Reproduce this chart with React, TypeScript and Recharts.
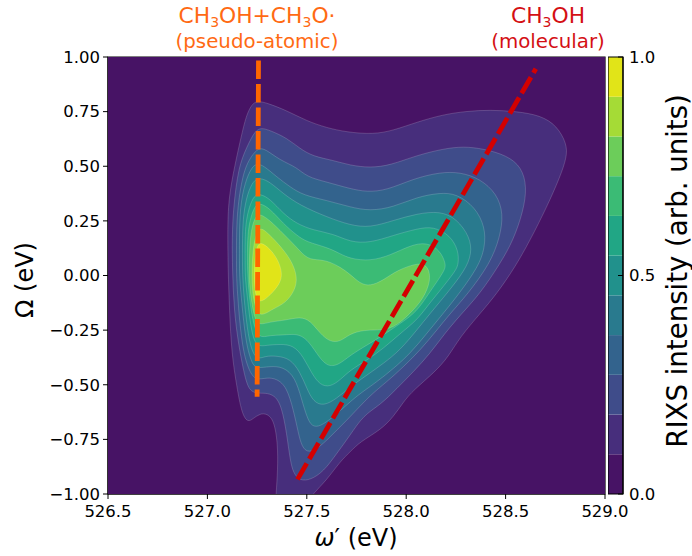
import React from 'react';
import { ScatterChart, Scatter, XAxis, YAxis, ReferenceArea, BarChart, Bar } from 'recharts';

const FONT = '"DejaVu Sans", sans-serif';

const xTicks = [526.5, 527, 527.5, 528, 528.5, 529];
const yTicks = [-1, -0.75, -0.5, -0.25, 0, 0.25, 0.5, 0.75, 1];
const barTicks = [0, 0.5, 1];
const bandColors = ['#471365', '#472e7c', '#3f4c8a', '#33638d', '#297a8e', '#21918c', '#21a685', '#3bbb75', '#6ccd5a', '#a5db36', '#e1e418'];

type P = [number, number];
const backdrop: P[] = [[526.5, -1], [529, -1], [529, 1], [526.5, 1]];
const contour1: P[] = [[527.101,.252],[527.111,.374],[527.136,.496],[527.173,.649],[527.198,.74],[527.228,.79],[527.257,.798],[527.299,.79],[527.399,.755],[527.5,.707],[527.6,.676],[527.701,.656],[527.835,.646],[527.936,.664],[528.053,.702],[528.187,.737],[528.305,.752],[528.422,.758],[528.556,.751],[528.674,.733],[528.757,.687],[528.808,.603],[528.808,.542],[528.774,.451],[528.707,.313],[528.623,.161],[528.548,.039],[528.456,-.083],[528.372,-.174],[528.271,-.281],[528.212,-.372],[528.145,-.441],[528.036,-.525],[527.986,-.578],[527.936,-.647],[527.869,-.708],[527.768,-.761],[527.718,-.807],[527.667,-.852],[527.6,-.936],[527.533,-.997],[527.491,-1.05],[527.449,-1.104],[527.34,-1.104],[527.344,-1.05],[527.345,-1.002],[527.354,-.89],[527.354,-.769],[527.335,-.662],[527.299,-.632],[527.265,-.632],[527.231,-.654],[527.203,-.673],[527.173,-.632],[527.148,-.51],[527.122,-.357],[527.111,-.159],[527.104,.024]];
const contour2: P[] = [[527.124,.176],[527.131,.313],[527.156,.496],[527.198,.588],[527.24,.664],[527.273,.676],[527.315,.664],[527.399,.63],[527.466,.58],[527.533,.545],[527.634,.527],[527.718,.504],[527.818,.493],[527.919,.504],[528.053,.55],[528.187,.58],[528.288,.591],[528.389,.58],[528.506,.55],[528.581,.496],[528.607,.405],[528.59,.298],[528.539,.161],[528.472,.054],[528.372,-.083],[528.271,-.182],[528.187,-.273],[528.12,-.357],[528.036,-.441],[527.953,-.517],[527.869,-.593],[527.785,-.639],[527.718,-.731],[527.651,-.814],[527.584,-.898],[527.517,-.936],[527.466,-.939],[527.433,-.906],[527.416,-.845],[527.399,-.723],[527.374,-.601],[527.34,-.548],[527.29,-.537],[527.248,-.54],[527.206,-.525],[527.181,-.433],[527.156,-.312],[527.134,-.159],[527.126,.024]];
const contour3: P[] = [[527.146,.176],[527.151,.313],[527.181,.481],[527.223,.55],[527.257,.583],[527.29,.58],[527.366,.527],[527.449,.496],[527.5,.451],[527.6,.428],[527.718,.397],[527.802,.382],[527.902,.39],[528.036,.443],[528.171,.473],[528.271,.473],[528.372,.443],[528.456,.374],[528.489,.283],[528.472,.176],[528.422,.054],[528.305,-.09],[528.221,-.174],[528.154,-.25],[528.07,-.342],[527.986,-.418],[527.902,-.487],[527.818,-.548],[527.718,-.647],[527.634,-.723],[527.567,-.784],[527.508,-.814],[527.475,-.784],[527.458,-.723],[527.433,-.616],[527.399,-.51],[527.349,-.472],[527.299,-.467],[527.248,-.479],[527.215,-.449],[527.181,-.357],[527.161,-.205],[527.149,-.052],[527.146,.024]];
const contour4: P[] = [[527.161,.176],[527.164,.313],[527.189,.428],[527.223,.496],[527.248,.512],[527.282,.504],[527.349,.451],[527.416,.405],[527.483,.367],[527.6,.344],[527.718,.313],[527.818,.295],[527.936,.313],[528.053,.359],[528.171,.379],[528.254,.374],[528.347,.313],[528.397,.222],[528.397,.13],[528.363,.039],[528.254,-.098],[528.171,-.19],[528.103,-.266],[528.02,-.357],[527.936,-.426],[527.852,-.487],[527.768,-.54],[527.718,-.578],[527.634,-.647],[527.567,-.692],[527.525,-.692],[527.5,-.647],[527.475,-.57],[527.441,-.464],[527.382,-.418],[527.315,-.415],[527.248,-.426],[527.223,-.403],[527.195,-.312],[527.178,-.174],[527.164,-.037],[527.161,.024]];
const contour5: P[] = [[527.176,.176],[527.181,.283],[527.201,.374],[527.231,.435],[527.265,.448],[527.315,.428],[527.382,.374],[527.466,.321],[527.6,.268],[527.718,.23],[527.818,.219],[527.936,.252],[528.053,.283],[528.171,.295],[528.254,.26],[528.321,.176],[528.33,.1],[528.296,.024],[528.204,-.083],[528.12,-.174],[528.053,-.25],[527.969,-.342],[527.885,-.403],[527.802,-.456],[527.718,-.51],[527.651,-.563],[527.584,-.598],[527.533,-.578],[527.5,-.517],[527.466,-.441],[527.416,-.38],[527.349,-.368],[527.29,-.368],[527.248,-.388],[527.215,-.327],[527.195,-.205],[527.181,-.068],[527.176,.024]];
const contour6: P[] = [[527.189,.176],[527.195,.252],[527.21,.313],[527.235,.367],[527.265,.374],[527.315,.351],[527.382,.283],[527.449,.237],[527.533,.207],[527.634,.191],[527.718,.153],[527.818,.149],[527.936,.184],[528.053,.214],[528.137,.225],[528.221,.184],[528.263,.115],[528.263,.054],[528.251,.024],[528.171,-.068],[528.103,-.144],[528.053,-.205],[527.969,-.266],[527.885,-.334],[527.802,-.388],[527.718,-.433],[527.667,-.479],[527.617,-.51],[527.567,-.502],[527.525,-.449],[527.483,-.372],[527.433,-.319],[527.366,-.314],[527.299,-.319],[527.248,-.327],[527.223,-.266],[527.206,-.144],[527.193,-.037],[527.189,.024]];
const contour7: P[] = [[527.2,.115],[527.205,.207],[527.218,.268],[527.24,.321],[527.265,.332],[527.315,.306],[527.382,.237],[527.449,.184],[527.5,.153],[527.6,.13],[527.667,.1],[527.718,.077],[527.818,.066],[527.919,.092],[528.02,.138],[528.103,.153],[528.171,.115],[528.199,.054],[528.196,.024],[528.112,-.083],[528.053,-.167],[527.969,-.22],[527.885,-.273],[527.802,-.319],[527.718,-.365],[527.659,-.411],[527.6,-.418],[527.55,-.357],[527.5,-.289],[527.449,-.266],[527.382,-.273],[527.315,-.273],[527.257,-.289],[527.231,-.22],[527.215,-.128],[527.203,-.022]];
const contour8: P[] = [[527.21,.024],[527.213,.146],[527.223,.222],[527.243,.272],[527.265,.283],[527.315,.252],[527.382,.191],[527.449,.13],[527.503,.073],[527.567,.073],[527.617,.062],[527.667,.039],[527.718,.006],[527.768,-.037],[527.818,-.049],[527.885,-.022],[527.953,.024],[528.07,.062],[528.112,.039],[528.124,-.022],[528.087,-.106],[528.02,-.174],[527.936,-.243],[527.852,-.25],[527.785,-.25],[527.718,-.266],[527.667,-.304],[527.617,-.304],[527.567,-.266],[527.517,-.205],[527.466,-.189],[527.391,-.205],[527.315,-.212],[527.265,-.227],[527.24,-.205],[527.223,-.128],[527.211,-.037]];
const contour9: P[] = [[527.257,.222],[527.29,.207],[527.357,.146],[527.424,.069],[527.453,-.007],[527.441,-.068],[527.391,-.128],[527.332,-.151],[527.282,-.182],[527.248,-.174],[527.226,-.083],[527.223,.024],[527.231,.146]];
const contour10: P[] = [[527.265,.156],[527.315,.123],[527.357,.07],[527.377,.009],[527.366,-.037],[527.315,-.091],[527.273,-.121],[527.248,-.113],[527.236,-.052],[527.236,.054],[527.248,.13]];
const contours = [contour1, contour2, contour3, contour4, contour5, contour6, contour7, contour8, contour9, contour10];

const atomicLine: P[] = [[527.257, 0.984], [527.25, -0.555]];
const molecularLine: P[] = [[527.453, -0.933], [528.652, 0.946]];

const toPoints = (list: P[]) => list.map(([x, y]) => ({ x, y }));
const noMark = () => <g />;

const barRow: Record<string, number | string> = { name: 'c' };
bandColors.forEach((_, i) => { barRow[`b${i}`] = 1 / bandColors.length; });

const overlay = (left: number, top: number, color: string, size: number, body: React.ReactNode) => (
  <div style={{ position: 'absolute', left, top, width: 260, textAlign: 'center', color, fontSize: size, fontFamily: FONT, lineHeight: '24px', whiteSpace: 'nowrap' }}>{body}</div>
);
const Sub = () => <span style={{ fontSize: 14, position: 'relative', top: 4, lineHeight: 0 }}>3</span>;

const barMargin = { top: 57, right: 0, bottom: 62, left: 0 };

export default function App() {
  return (
    <div style={{ position: 'absolute', left: 0, top: 0, width: 692, height: 556, background: '#fff', overflow: 'hidden' }}>
      <ScatterChart width={692} height={556} margin={{ top: 57, right: 87, bottom: 0, left: 0 }} style={{ position: 'absolute', left: 0, top: 0 }}>
        <XAxis type="number" dataKey="x" domain={[526.5, 529]} ticks={xTicks} interval={0} allowDataOverflow height={62}
          tickFormatter={(v: number) => v.toFixed(1)} tick={{ fill: '#000', fontSize: 16.5, fontFamily: FONT }} tickSize={5} tickMargin={6}
          stroke="#000"
          label={{ content: () => (
            <text x={356} y={546} textAnchor="middle" fontSize={24} fontFamily={FONT} fill="#000"><tspan fontStyle="italic">ω</tspan>′ (eV)</text>
          ) }} />
        <YAxis type="number" dataKey="y" domain={[-1, 1]} ticks={yTicks} interval={0} allowDataOverflow width={108}
          tickFormatter={(v: number) => v.toFixed(2).replace('-', '\u2212')} tick={{ fill: '#000', fontSize: 16.5, fontFamily: FONT }} tickSize={5} tickMargin={3}
          stroke="#000"
          label={{ content: () => (
            <text x={25} y={280} transform="rotate(-90 25 280)" textAnchor="middle" dominantBaseline="central" fontSize={24} fontFamily={FONT} fill="#000">Ω (eV)</text>
          ) }} />
        <Scatter data={toPoints(backdrop)} isAnimationActive={false} shape={noMark} lineJointType="linearClosed"
          line={{ fill: bandColors[0], stroke: 'none' }} />
        {contours.map((c, i) => (
          <Scatter key={i} data={toPoints(c)} isAnimationActive={false} shape={noMark} lineJointType="basisClosed"
            line={{ fill: bandColors[i + 1], stroke: 'rgba(255,255,255,0.28)', strokeWidth: 0.6 }} />
        ))}
        <Scatter data={toPoints(atomicLine)} isAnimationActive={false} shape={noMark} lineJointType="linear"
          line={{ fill: 'none', stroke: '#ff6600', strokeWidth: 4.8, strokeDasharray: '18.5 5' }} />
        <Scatter data={toPoints(molecularLine)} isAnimationActive={false} shape={noMark} lineJointType="linear"
          line={{ fill: 'none', stroke: '#d40000', strokeWidth: 4.8, strokeDasharray: '18.5 5' }} />
        <ReferenceArea x1={526.5} x2={529} y1={-1} y2={1} fill="none" stroke="#000" strokeWidth={1.2} />
      </ScatterChart>

      <BarChart width={84} height={556} data={[barRow]} margin={barMargin} barCategoryGap={0}
        style={{ position: 'absolute', left: 608, top: 0 }}>
        <XAxis dataKey="name" hide />
        <YAxis orientation="right" type="number" domain={[0, 1]} ticks={barTicks} width={69} tick={false} axisLine={false} tickLine={false} />
        {bandColors.map((c, i) => (
          <Bar key={c} dataKey={`b${i}`} stackId="bar" fill={c} isAnimationActive={false} />
        ))}
      </BarChart>
      <BarChart width={84} height={556} data={[barRow]} margin={barMargin} barCategoryGap={0}
        style={{ position: 'absolute', left: 608, top: 0 }}>
        <XAxis dataKey="name" hide />
        <YAxis orientation="right" type="number" domain={[0, 1]} ticks={barTicks} interval={0} width={69}
          tickFormatter={(v: number) => v.toFixed(1)} tick={{ fill: '#000', fontSize: 16.5, fontFamily: FONT }} tickSize={-5} tickMargin={11}
          stroke="#000" />
        <Bar dataKey="b0" fill="none" isAnimationActive={false} />
        <ReferenceArea y1={0} y2={1} fill="none" stroke="#000" strokeWidth={1.2} />
      </BarChart>

      <div style={{ position: 'absolute', left: 677, top: 271, transform: 'translate(-50%,-50%) rotate(-90deg)', fontFamily: FONT, fontSize: 27.6, color: '#000', whiteSpace: 'nowrap' }}>
        RIXS intensity (arb. units)
      </div>

      {overlay(127, 4, '#ff6a13', 21.8, <>CH<Sub />OH+CH<Sub />O·</>)}
      {overlay(127, 30, '#ff6a13', 19.8, <>(pseudo-atomic)</>)}
      {overlay(418, 4, '#d40f14', 21.8, <>CH<Sub />OH</>)}
      {overlay(418, 30, '#d40f14', 19.8, <>(molecular)</>)}
    </div>
  );
}
